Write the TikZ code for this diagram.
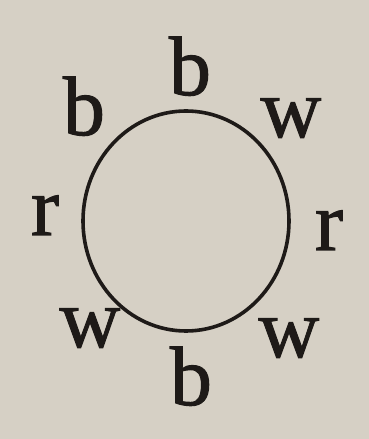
\documentclass[tikz,border=0pt]{standalone}
\usepackage{fontspec}
\setmainfont{Liberation Serif}
\newfontfamily\heavyserif[FakeBold=1.2]{Liberation Serif}
\definecolor{paper}{HTML}{D6D0C5}
\definecolor{ink}{HTML}{1E1A18}
\begin{document}
\begin{tikzpicture}[x=1pt,y=1pt,
  lab/.style={inner sep=0pt,anchor=base,text=ink,font=\heavyserif\fontsize{84}{84}\selectfont}]
\fill[paper] (0,0) rectangle (369,439);
\useasboundingbox (0,0) rectangle (369,439);
\draw[ink,line width=3.6pt] (186,218) ellipse [x radius=103,y radius=110];
\node[lab] (bt) at (190,344) {b};
\node[lab] (bul) at (84,304) {b};
\node[lab] (wur) at (291,302) {w};
\node[lab] (rl) at (45,204) {r};
\node[lab] (rr) at (329,189) {r};
\node[lab] (wll) at (90,92) {w};
\node[lab] (wlr) at (289,82) {w};
\node[lab] (bb) at (191,34) {b};
\end{tikzpicture}
\end{document}
